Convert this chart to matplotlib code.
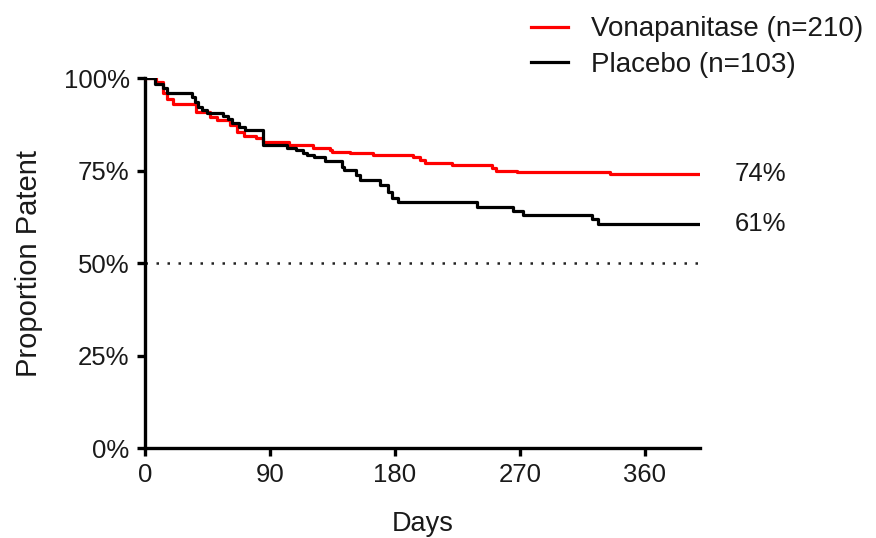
import matplotlib
matplotlib.use("Agg")
import matplotlib.pyplot as plt
from matplotlib.ticker import FuncFormatter

plt.rcParams['font.family'] = ['Liberation Sans', 'DejaVu Sans']

# Vonapanitase (n=210) step curve: day, percent patent
von_days = [0, 8, 13, 16, 20, 37, 47, 52, 61, 66, 71, 80, 85, 104, 121, 133, 135,
            148, 164, 193, 198, 202, 221, 250, 253, 268, 335, 400]
von_vals = [100, 99.0, 96.0, 94.3, 93.0, 90.8, 89.5, 88.6, 87.3, 85.4, 84.3, 83.8,
            82.7, 81.8, 81.0, 80.5, 80.0, 79.7, 79.2, 78.6, 77.8, 77.0, 76.5, 75.7,
            75.0, 74.6, 74.1, 74.1]

# Placebo (n=103) step curve
pla_days = [0, 7, 13, 16, 34, 36, 38, 41, 45, 56, 60, 63, 68, 72, 85, 102, 109, 114,
            117, 122, 130, 142, 143, 152, 155, 169, 175, 178, 182, 239, 265, 272,
            322, 326, 400]
pla_vals = [100, 98.4, 97.3, 96.0, 95.0, 93.5, 92.2, 91.4, 90.5, 89.7, 88.9, 87.8,
            86.8, 85.9, 81.9, 81.0, 80.5, 79.7, 79.2, 78.6, 77.6, 75.9, 75.1, 73.8,
            72.4, 71.1, 69.2, 67.6, 66.5, 65.1, 64.1, 63.0, 61.9, 60.5, 60.5]

labels = ["Vonapanitase (n=210)", "Placebo (n=103)"]
end_labels = ["74%", "61%"]
x_ticks = [0, 90, 180, 270, 360]
y_ticks = [0, 25, 50, 75, 100]

fig = plt.figure(figsize=(8.76, 5.38), dpi=100)
ax = fig.add_axes([0.1655, 0.167, 0.634, 0.688])

l1, = ax.step(von_days, von_vals, where='post', color='#ff0000', lw=2.3, zorder=3)
l2, = ax.step(pla_days, pla_vals, where='post', color='black', lw=2.3, zorder=4)
ax.axhline(50, color='#222222', lw=1.8, ls=(0, (1, 3.4)), zorder=1)

ax.set_xlim(0, 400)
ax.set_ylim(0, 100)
ax.set_xticks(x_ticks)
ax.set_yticks(y_ticks)
ax.yaxis.set_major_formatter(FuncFormatter(lambda v, p: f"{int(v)}%"))
for s in ['top', 'right']:
    ax.spines[s].set_visible(False)
for s in ['left', 'bottom']:
    ax.spines[s].set_linewidth(2.4)
ax.tick_params(axis='both', direction='out', length=6, width=2.4, labelsize=18.5,
               pad=5, labelcolor='#1a1a1a')
ax.set_xlabel("Days", fontsize=19.5, labelpad=17, color='#1a1a1a')
ax.set_ylabel("Proportion Patent", fontsize=21, labelpad=15, color='#1a1a1a')

for val, txt in zip([von_vals[-1], pla_vals[-1]], end_labels):
    ax.annotate(txt, xy=(1.0, val / 100), xycoords='axes fraction',
                xytext=(25, 0), textcoords='offset points', va='center', ha='left',
                fontsize=18.5, color='#1a1a1a')

fig.legend([l1, l2], labels, loc='upper left', bbox_to_anchor=(0.578, 1.016),
           frameon=False, fontsize=20, handlelength=1.32, handletextpad=0.83,
           labelspacing=0.33, labelcolor='#1a1a1a')

fig.savefig("out.png", dpi=100)
